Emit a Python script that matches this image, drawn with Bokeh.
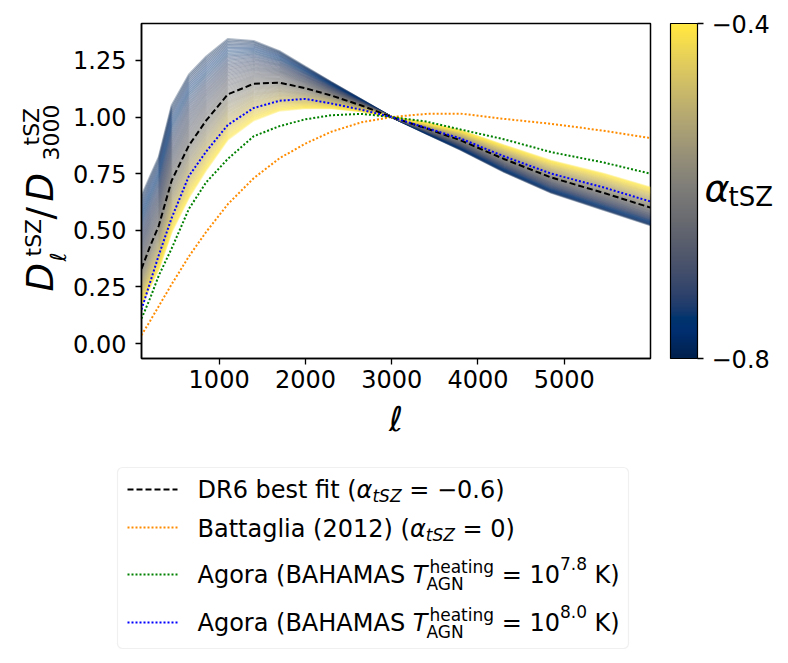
import numpy as np
from bokeh.plotting import figure
from bokeh.models import (Range1d, FixedTicker, NumeralTickFormatter, ColumnDataSource,
                          LinearColorMapper, BoxAnnotation)
from bokeh.layouts import row, column
from bokeh.palettes import Cividis256
from bokeh.transform import linear_cmap
from bokeh.core.properties import value
from bokeh.embed import file_html
from bokeh.resources import INLINE

# ---------------- data ----------------
ell = [100, 200, 300, 450, 650, 850, 1100, 1400, 1700, 2000, 2300, 2650,
       3000, 3400, 3800, 4300, 4850, 5450, 6000]
dr6_best_fit = [0.33, 0.43, 0.52, 0.72, 0.875, 0.985, 1.10, 1.147, 1.152, 1.127, 1.095, 1.051,
                1.0, 0.95, 0.897, 0.815, 0.733, 0.666, 0.60]
battaglia_2012 = [0.037, 0.10, 0.165, 0.262, 0.385, 0.493, 0.615, 0.73, 0.818, 0.883, 0.935, 0.977,
                  1.0, 1.014, 1.015, 0.992, 0.97, 0.94, 0.907]
agora_T78 = [0.11, 0.20, 0.30, 0.42, 0.595, 0.712, 0.815, 0.915, 0.96, 0.99, 1.008, 1.014,
             1.0, 0.98, 0.945, 0.902, 0.845, 0.80, 0.75]
agora_T80 = [0.15, 0.27, 0.39, 0.555, 0.74, 0.848, 0.965, 1.04, 1.072, 1.08, 1.06, 1.032,
             1.0, 0.952, 0.905, 0.827, 0.75, 0.69, 0.627]
alpha_best = -0.6          # DR6 best-fit alpha_tSZ
alpha_low, alpha_high = -0.8, -0.4
alpha_grid = [round(alpha_low + 0.005 * i, 3) for i in range(81)]   # scanned alpha_tSZ values
ell_pivot = 3000.0
x_ticks = [1000, 2000, 3000, 4000, 5000]
y_ticks = [0.0, 0.25, 0.5, 0.75, 1.0, 1.25]
cbar_ticks = [-0.8, -0.4]
cbar_tick_labels = ["\u22120.8", "\u22120.4"]

# legend rows: pieces of (text, style, size, baseline shift); "STACK" = sup over sub
LF, LS = 24, 17
legend_rows = [
    [("DR6 best fit (", "normal", LF, 0), ("\u03b1", "italic", LF, 0),
     ("tSZ", "italic", LS, 4), (" = \u22120.6)", "normal", LF, 0)],
    [("Battaglia (2012) (", "normal", LF, 0), ("\u03b1", "italic", LF, 0),
     ("tSZ", "italic", LS, 4), (" = 0)", "normal", LF, 0)],
    [("Agora (BAHAMAS ", "normal", LF, 0), ("T", "italic", LF, 0),
     ("STACK", ("heating", "normal", LS, -10, 2), ("AGN", "normal", LS, 7, -1)),
     (" = 10", "normal", LF, 0), ("7.8", "normal", LS, -14), (" K)", "normal", LF, 0)],
    [("Agora (BAHAMAS ", "normal", LF, 0), ("T", "italic", LF, 0),
     ("STACK", ("heating", "normal", LS, -10, 2), ("AGN", "normal", LS, 7, -1)),
     (" = 10", "normal", LF, 0), ("8.0", "normal", LS, -14), (" K)", "normal", LF, 0)],
]
legend_styles = [("black", "6 3"), ("darkorange", "2 2"), ("green", "2 2"), ("blue", "2 2")]

FONT = "DejaVu Sans"
W = {' ': 0.318, '(': 0.390, ')': 0.390, '=': 0.838, '\u2212': 0.838, '.': 0.318, '/': 0.337,
     'A': 0.684, 'B': 0.686, 'D': 0.770, 'G': 0.775, 'H': 0.752, 'K': 0.656, 'M': 0.863,
     'N': 0.748, 'R': 0.695, 'S': 0.635, 'T': 0.611, 'Z': 0.685, 'a': 0.613, 'b': 0.635,
     'e': 0.615, 'f': 0.352, 'g': 0.635, 'h': 0.634, 'i': 0.278, 'l': 0.278, 'n': 0.634,
     'o': 0.612, 'r': 0.411, 's': 0.521, 't': 0.392, '\u03b1': 0.659, '\u2113': 0.417}
for d in "0123456789":
    W[d] = 0.636
MID = 0.32   # height of the text middle above the alphabetic baseline, in em


def tw(s, size):
    return size * sum(W.get(c, 0.6) for c in s)


def put_text(fig, x, y, txt, size, style="normal", angle=0.0, align="left"):
    """(x, y) is the alphabetic baseline point; drawn with a 'middle' anchor."""
    lead = len(txt) - len(txt.lstrip(" "))
    x = x + lead * W[" "] * size          # SVG drops leading blanks: shift instead
    if angle == 0.0:
        y = y + MID * size
    else:                                  # text rotated by +90 deg: 'up' is towards -x
        x = x - MID * size
    fig.text(x=[x], y=[y], text=[txt.strip(" ")], text_font=value(FONT),
             text_font_size=value(f"{size}px"), text_font_style=style,
             angle=angle, text_align=align, text_baseline="middle", text_color="black")


def no_align(f):
    try:
        f.frame_align = False
    except Exception:
        pass


def bare(width, height, xr, yr):
    f = figure(width=width, height=height, x_range=Range1d(*xr), y_range=Range1d(*yr),
               output_backend="svg", toolbar_location=None, min_border=0,
               x_axis_type=None, y_axis_type=None)
    f.outline_line_color = None
    f.background_fill_color = "white"
    f.border_fill_color = "white"
    no_align(f)
    return f


TOP_H = 446
# ---------------- main panel ----------------
p = figure(width=590, height=TOP_H, x_range=Range1d(100, 6000), y_range=Range1d(-0.066, 1.413),
           output_backend="svg", toolbar_location=None,
           min_border_left=69, min_border_right=10, min_border_top=23, min_border_bottom=88)
no_align(p)
p.grid.visible = False
p.background_fill_color = "white"
p.border_fill_color = "white"
p.outline_line_color = "black"
p.outline_line_width = 1.5
p.outline_line_alpha = 1.0

ell_arr = np.array(ell, dtype=float)
dr6_arr = np.array(dr6_best_fit)
fam_xs = [ell for _ in alpha_grid]
# template rescaled by (ell/3000)^(alpha - alpha_best), normalised at ell = 3000
fam_ys = [list(dr6_arr * (ell_arr / ell_pivot) ** (a - alpha_best)) for a in alpha_grid]
fam = ColumnDataSource(dict(xs=fam_xs, ys=fam_ys, alpha=alpha_grid))
p.multi_line(xs="xs", ys="ys", source=fam, line_width=2, line_alpha=0.3,
             line_color=linear_cmap("alpha", Cividis256, alpha_low, alpha_high))

p.line(ell, dr6_best_fit, line_color="black", line_width=2, line_dash="6 3")
p.line(ell, battaglia_2012, line_color="darkorange", line_width=2, line_dash="2 2")
p.line(ell, agora_T78, line_color="green", line_width=2, line_dash="2 2")
p.line(ell, agora_T80, line_color="blue", line_width=2, line_dash="2 2")

for ax in (p.xaxis, p.yaxis):
    ax.minor_tick_line_color = None
    ax.major_tick_in = 0
    ax.major_tick_out = 6
    ax.major_tick_line_width = 1.3
    ax.major_tick_line_color = "black"
    ax.axis_line_width = 1.5
    ax.axis_line_color = "black"
    ax.major_label_text_font = FONT
    ax.major_label_text_font_size = "24px"
    ax.major_label_text_color = "black"
p.xaxis.ticker = FixedTicker(ticks=x_ticks)
p.yaxis.ticker = FixedTicker(ticks=y_ticks)
p.yaxis.formatter = NumeralTickFormatter(format="0.00")
p.xaxis.major_label_standoff = 5
p.yaxis.major_label_standoff = 9
p.xaxis.axis_label = "\u2113"
p.xaxis.axis_label_text_font = FONT
p.xaxis.axis_label_text_font_style = "italic"
p.xaxis.axis_label_text_font_size = "34px"
p.xaxis.axis_label_text_color = "black"
p.xaxis.axis_label_standoff = 8

# ---------------- y label panel (page pixel coordinates, y negated) ----------------
yl = bare(70, TOP_H, (0, 70), (-TOP_H, 0))
# (text, baseline x, start y, size, style); drawn rotated, anchored at the reading end
ylabel_pieces = [("D", 51.5, 291, 37, "italic"), ("\u2113", 65, 261, 22, "italic"),
                 ("tSZ", 40, 256, 22, "normal"), ("/", 51.5, 219, 37, "normal"),
                 ("D", 51.5, 201, 37, "italic"), ("3000", 58, 160, 22, "normal"),
                 ("tSZ", 38, 145, 22, "normal")]
for t, xb, ys, sz, st in ylabel_pieces:
    put_text(yl, xb, -(ys - tw(t, sz)), t, sz, st, angle=np.pi / 2, align="right")

# ---------------- colour bar panel ----------------
cb = bare(120, TOP_H, (660, 780), (-TOP_H, 0))
bar_left, bar_right, bar_top, bar_bottom = 670, 697, 23, 358
mapper = LinearColorMapper(palette=Cividis256, low=alpha_low, high=alpha_high)
grad = np.linspace(alpha_low, alpha_high, 256).reshape(256, 1)
cb.image(image=[grad], x=bar_left, y=-bar_bottom, dw=bar_right - bar_left,
         dh=bar_bottom - bar_top, color_mapper=mapper)
cb.quad(left=[bar_left], right=[bar_right], bottom=[-bar_bottom], top=[-bar_top],
        fill_color=None, line_color="black", line_width=1.2)
tick_y = [-bar_bottom + (t - alpha_low) / (alpha_high - alpha_low) * (bar_bottom - bar_top)
          for t in cbar_ticks]
cb.segment(x0=[bar_right] * 2, x1=[bar_right + 6] * 2, y0=tick_y, y1=tick_y,
           line_color="black", line_width=1.3)
for ty, lab in zip(tick_y, cbar_tick_labels):
    put_text(cb, 711, ty - MID * 24, lab, 24, "normal")
put_text(cb, 704, -200, "\u03b1", 38, "italic")
put_text(cb, 728, -205, "tSZ", 26, "normal")

# ---------------- legend panel ----------------
LG_H = 655 - TOP_H
lg = bare(780, LG_H, (0, 780), (-655, -TOP_H))
lg.add_layout(BoxAnnotation(left=117, right=628, bottom=-648, top=-467,
                            fill_color="white", fill_alpha=1.0, line_color="#cccccc",
                            line_width=1.2, border_radius=5, level="underlay"))
sample_y = [489, 527, 574, 622]
text_base = [497, 536, 582, 630]
for (col, dash), sy in zip(legend_styles, sample_y):
    lg.line([127, 177], [-sy, -sy], line_color=col, line_width=2, line_dash=dash)
for pieces, yb in zip(legend_rows, text_base):
    x = 197.0
    for pc in pieces:
        if pc[0] == "STACK":
            ends = []
            for (t, st, sz, dy, dx) in pc[1:]:
                put_text(lg, x + dx, -(yb + dy), t, sz, st)
                ends.append(x + dx + tw(t, sz))
            x = max(ends)
        else:
            t, st, sz, dy = pc
            put_text(lg, x, -(yb + dy), t, sz, st)
            x += tw(t, sz)

layout = column(row(yl, p, cb), lg)
open("out.html", "w").write(file_html(layout, INLINE))
